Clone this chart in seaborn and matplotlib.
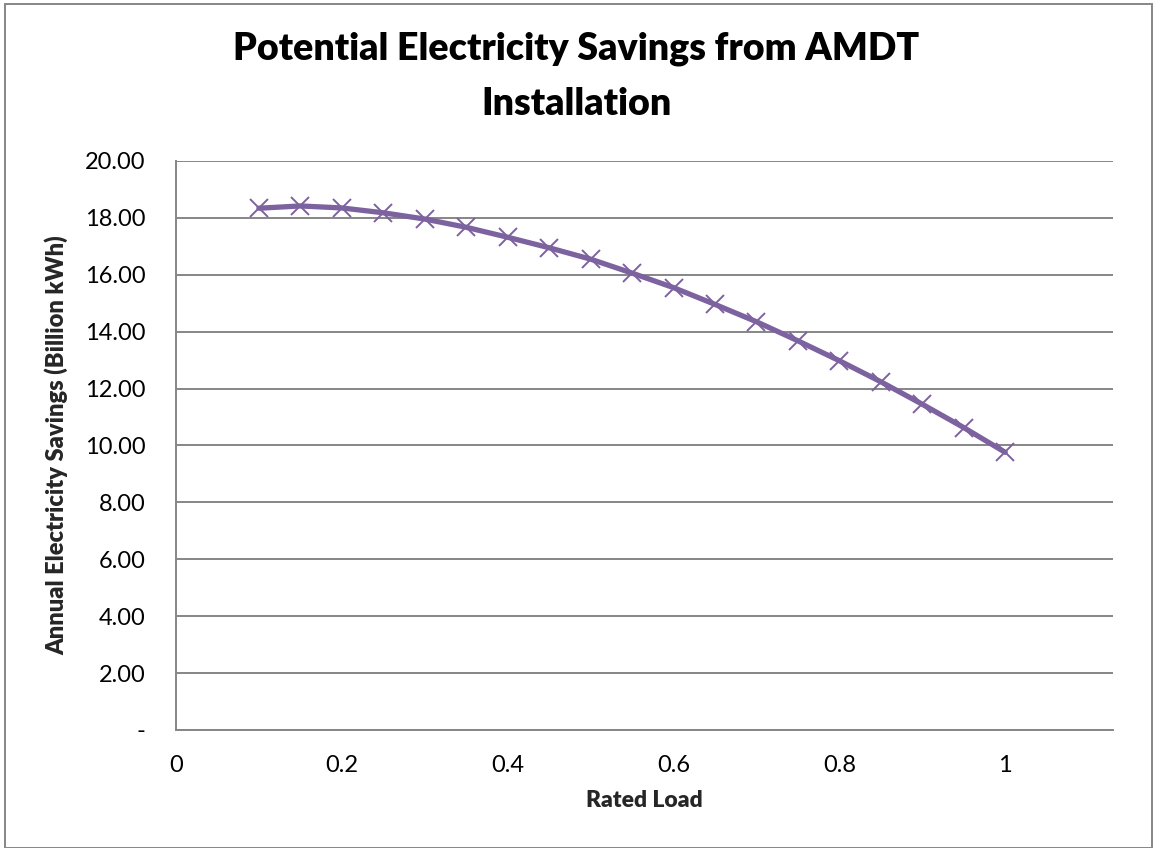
import matplotlib
matplotlib.use("Agg")
import matplotlib.pyplot as plt
import seaborn as sns
import pandas as pd
from matplotlib.patches import Rectangle
from matplotlib.ticker import FuncFormatter

rated_load = [0.10, 0.15, 0.20, 0.25, 0.30, 0.35, 0.40, 0.45, 0.50, 0.55,
              0.60, 0.65, 0.70, 0.75, 0.80, 0.85, 0.90, 0.95, 1.00]
savings = [18.34, 18.42, 18.35, 18.18, 17.96, 17.67, 17.32, 16.95, 16.55, 16.06,
           15.55, 14.96, 14.35, 13.68, 12.98, 12.24, 11.45, 10.63, 9.76]
x_ticks = [0, 0.2, 0.4, 0.6, 0.8, 1.0]
x_tick_labels = ["0", "0.2", "0.4", "0.6", "0.8", "1"]
y_ticks = [0, 2, 4, 6, 8, 10, 12, 14, 16, 18, 20]

sns.set_theme(style="white")
plt.rcParams["font.family"] = ["Lato", "DejaVu Sans"]

df = pd.DataFrame({"Rated Load": rated_load, "Savings": savings})

fig = plt.figure(figsize=(11.53, 8.48), dpi=100)
ax = fig.add_axes([176 / 1153, 1 - 730 / 848, (1113 - 176) / 1153, (730 - 161) / 848])

purple = "#7D62A0"
sns.lineplot(data=df, x="Rated Load", y="Savings", ax=ax, color=purple,
             linewidth=3.8, marker="x", markersize=13.5, markeredgewidth=1.4,
             markeredgecolor=purple, zorder=3)

ax.set_xlim(0, 1.13)
ax.set_ylim(0, 20)
ax.set_xticks(x_ticks)
ax.set_xticklabels(x_tick_labels)
ax.set_yticks(y_ticks)
ax.yaxis.set_major_formatter(FuncFormatter(lambda v, p: "-" if v == 0 else f"{v:.2f}"))

grid_c = "#868686"
ax.grid(axis="y", color=grid_c, linewidth=1.4)
ax.grid(axis="x", visible=False)
ax.set_axisbelow(True)
for side in ("top", "right"):
    ax.spines[side].set_visible(False)
for side in ("left", "bottom"):
    ax.spines[side].set_color(grid_c)
    ax.spines[side].set_linewidth(1.4)

ax.tick_params(axis="both", which="major", direction="out", length=8, width=1.2,
               color=grid_c, labelsize=17, labelcolor="black")
ax.tick_params(axis="y", pad=14)
ax.tick_params(axis="x", pad=10)

ax.set_xlabel("Rated Load", fontsize=16.5, fontweight="heavy", labelpad=10)
ax.set_ylabel("Annual Electricity Savings (Billion kWh)", fontsize=17,
              fontweight="heavy", labelpad=12)

fig.text(0.5, 1 - 76 / 848, "Potential Electricity Savings from AMDT\nInstallation",
         ha="center", va="center", fontsize=27, fontweight="heavy", linespacing=1.75,
         color="black")

fig.patches.append(Rectangle((5 / 1153, 0), 1 - 6 / 1153, 1 - 4 / 848,
                             transform=fig.transFigure, fill=False,
                             edgecolor="#868686", linewidth=1.4))

fig.savefig("out.png", dpi=100)
